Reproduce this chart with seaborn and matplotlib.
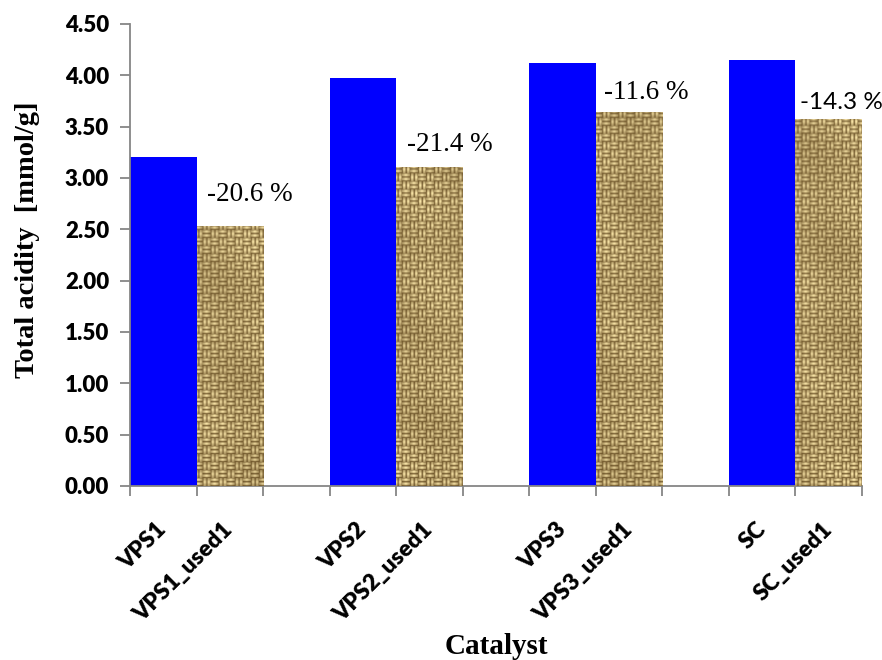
import numpy as np
import pandas as pd
import matplotlib
matplotlib.use("Agg")
import matplotlib.pyplot as plt
import seaborn as sns

# Total acidity of fresh and once-used catalysts
catalysts = ["VPS1", "VPS1_used1", "VPS2", "VPS2_used1",
             "VPS3", "VPS3_used1", "SC", "SC_used1"]
acidity = [3.20, 2.53, 3.97, 3.11, 4.12, 3.64, 4.15, 3.57]
state = ["fresh", "used", "fresh", "used", "fresh", "used", "fresh", "used"]
change_labels = ["-20.6 %", "-21.4 %", "-11.6 %", "-14.3 %"]

# category slots: each pair is followed by an empty slot
slot_order = ["VPS1", "VPS1_used1", " ", "VPS2", "VPS2_used1", "  ",
              "VPS3", "VPS3_used1", "   ", "SC", "SC_used1"]

# styling for the change labels (horizontal nudge in slots, lift in px, font)
label_nudge = [0.15, 0.16, 0.12, 0.07]
label_lift_px = [32, 22, 20, 17]
label_family = ["Liberation Serif", "Liberation Serif", "Liberation Serif", "Lato"]

df = pd.DataFrame({"Catalyst": catalysts, "Acidity": acidity, "State": state})

sns.set_style("white")
plt.rcParams["font.family"] = ["Lato", "DejaVu Sans"]
plt.rcParams["text.color"] = "black"
plt.rcParams["xtick.color"] = "black"
plt.rcParams["ytick.color"] = "black"
plt.rcParams["axes.labelcolor"] = "black"

W, H = 882, 660
fig = plt.figure(figsize=(W / 100, H / 100), dpi=100)
ax_l, ax_r, ax_t, ax_b = 130, 862, 24, 486
ax = fig.add_axes([ax_l / W, 1 - ax_b / H, (ax_r - ax_l) / W, (ax_b - ax_t) / H])

fresh_color, used_color = "#0000FF", "#C8A86C"
sns.barplot(data=df, x="Catalyst", y="Acidity", hue="State", order=slot_order,
            palette={"fresh": fresh_color, "used": used_color}, dodge=False,
            saturation=1, width=1.0, linewidth=0, legend=False, ax=ax)


def weave_texture(h, w, t=4):
    """Woven burlap look: alternating blocks of horizontal / vertical threads."""
    r = np.arange(h)[:, None]
    c = np.arange(w)[None, :]
    blk = 2 * t
    block = ((r // blk) + (c // blk)) % 2
    prof = np.array([0.30, 0.85, 1.0, 0.65])
    edge_h = np.minimum(c % blk, blk - 1 - c % blk) / (t - 1)
    edge_v = np.minimum(r % blk, blk - 1 - r % blk) / (t - 1)
    along_h = 0.62 + 0.38 * np.clip(edge_h, 0, 1)
    along_v = 0.62 + 0.38 * np.clip(edge_v, 0, 1)
    b = np.where(block == 0, prof[r % t] * along_h, prof[c % t] * along_v)
    # slow diagonal shading, like the uneven tone of coarse cloth
    b = b * (0.90 + 0.10 * np.cos((r + c) / 23.0) * np.cos((r - c) / 37.0))
    b = np.clip(b, 0, 1)
    dark = np.array([0.36, 0.26, 0.10])
    light = np.array([0.98, 0.90, 0.66])
    return dark + (light - dark) * b[..., None]


tex = weave_texture(ax_b - ax_t, ax_r - ax_l)
n_slots = len(slot_order)
used_rgb = matplotlib.colors.to_rgb(used_color)
used_patches = [p for p in ax.patches
                if np.allclose(p.get_facecolor()[:3], used_rgb, atol=0.02)
                and p.get_height() > 0]
for p in used_patches:
    im = ax.imshow(tex, extent=(-0.5, n_slots - 0.5, 0, 4.5), origin="lower",
                   aspect="auto", interpolation="bilinear", zorder=3)
    im.set_clip_path(p)

ax.set_xlim(-0.5, n_slots - 0.5)
ax.set_ylim(0, 4.5)

# change labels above the used-catalyst bars
used_names = [n for n, s in zip(catalysts, state) if s == "used"]
used_vals = [v for v, s in zip(acidity, state) if s == "used"]
for name, val, txt, nudge, lift, fam in zip(used_names, used_vals, change_labels,
                                            label_nudge, label_lift_px, label_family):
    xpos = slot_order.index(name)
    ax.annotate(txt, xy=(xpos - 0.5 + nudge, val), xytext=(0, lift * 0.72),
                textcoords="offset points", ha="left", va="center",
                fontsize=19.5 if fam != "Lato" else 17.5, family=fam, zorder=5)

# axes styling
grey = "#868686"
for side in ["top", "right"]:
    ax.spines[side].set_visible(False)
for side in ["left", "bottom"]:
    ax.spines[side].set_color(grey)
    ax.spines[side].set_linewidth(1.3)

yticks = np.arange(0, 4.51, 0.5)
ax.set_yticks(yticks)
ax.set_yticklabels([f"{v:.2f}" for v in yticks], fontsize=16, fontweight="heavy")
ax.tick_params(axis="y", direction="out", length=7, width=1.3, color=grey, pad=8, left=True)

positions = [slot_order.index(n) for n in catalysts]
ax.set_xticks(positions)
ax.set_xticklabels(catalysts, rotation=45, ha="right", rotation_mode="anchor",
                   va="center", fontsize=16.5, fontweight="heavy")
ax.tick_params(axis="x", which="major", length=0, pad=29)
ax.set_xticks(np.arange(-0.5, n_slots, 1.0), minor=True)
ax.tick_params(axis="x", which="minor", direction="out", length=7, width=1.3,
               color=grey, bottom=True)

ax.set_xlabel("Catalyst", family="Liberation Serif", fontweight="bold", fontsize=21,
              va="center")
ax.xaxis.set_label_coords(0.5, -(647 - ax_b) / (ax_b - ax_t))
ax.set_ylabel("Total acidity  [mmol/g]", family="Liberation Serif", fontweight="bold",
              fontsize=20.5, va="center")
ax.yaxis.set_label_coords((27 - ax_l) / (ax_r - ax_l), (ax_b - 240) / (ax_b - ax_t))

fig.savefig("out.png", dpi=100)
